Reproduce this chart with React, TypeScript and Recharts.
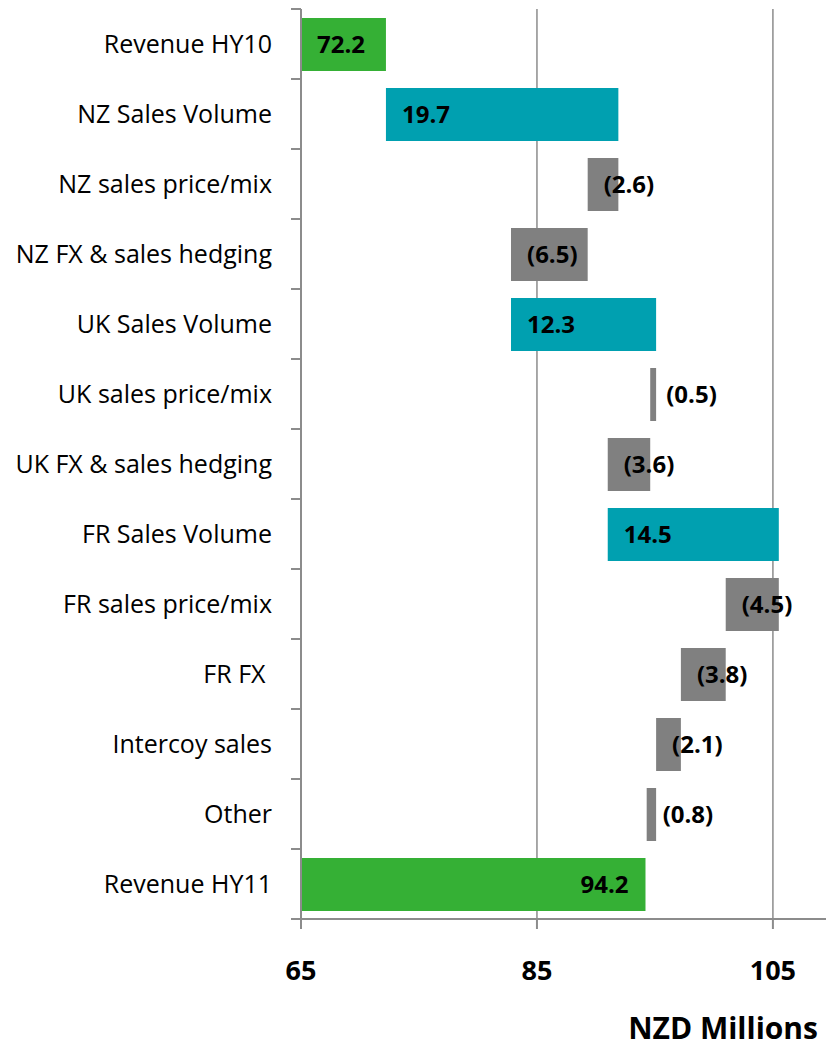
import React from 'react';
import { BarChart, Bar, XAxis, YAxis, CartesianGrid, Cell, LabelList, Label } from 'recharts';

const categories = [
  'Revenue HY10',
  'NZ Sales Volume',
  'NZ sales price/mix',
  'NZ FX & sales hedging',
  'UK Sales Volume',
  'UK sales price/mix',
  'UK FX & sales hedging',
  'FR Sales Volume',
  'FR sales price/mix',
  'FR FX\u00A0',
  'Intercoy sales',
  'Other',
  'Revenue HY11',
];

// totals are absolute values, the rest are movements
const changes = [72.2, 19.7, -2.6, -6.5, 12.3, -0.5, -3.6, 14.5, -4.5, -3.8, -2.1, -0.8, 94.2];
const kinds = ['total', 'volume', 'adj', 'adj', 'volume', 'adj', 'adj', 'volume', 'adj', 'adj', 'adj', 'adj', 'total'];
const xTicks = [65, 85, 105];

const X_MIN = 65;
const X_MAX = 109.5;
const BAND = 70;
const FONT = '"Open Sans", sans-serif';
const AXIS_GRAY = '#8c8c8c';

const colorFor: Record<string, string> = {
  total: '#35b035',
  volume: '#00a0b0',
  adj: '#808080',
};

const fmt = (v: number) => (v < 0 ? `(${Math.abs(v).toFixed(1)})` : v.toFixed(1));

// build the floating bars as [low, high] ranges
let level = 0;
const data = categories.map((name, i) => {
  const v = changes[i];
  let low: number;
  let high: number;
  if (kinds[i] === 'total') {
    low = X_MIN;
    high = v;
    level = v;
  } else {
    const start = level;
    const end = level + v;
    low = Math.min(start, end);
    high = Math.max(start, end);
    level = end;
  }
  return { name, range: [low, high], label: fmt(v), kind: kinds[i] };
});

const CategoryTick = (props: any) => {
  const { x, y, payload, index } = props;
  return (
    <g>
      <line x1={x - 10} x2={x} y1={y - BAND / 2} y2={y - BAND / 2} stroke={AXIS_GRAY} strokeWidth={2} />
      {index === categories.length - 1 && (
        <line x1={x - 10} x2={x} y1={y + BAND / 2} y2={y + BAND / 2} stroke={AXIS_GRAY} strokeWidth={2} />
      )}
      <text x={x - 29} y={y} dy="0.35em" textAnchor="end" fontFamily={FONT} fontSize={25} fill="#000">
        {payload.value}
      </text>
    </g>
  );
};

const BarLabel = (props: any) => {
  const { x, y, width, height, value, index } = props;
  const last = index === categories.length - 1;
  const tx = last ? x + width - 17 : x + 16;
  return (
    <text
      x={tx}
      y={y + height / 2}
      dy="0.35em"
      textAnchor={last ? 'end' : 'start'}
      fontFamily={FONT}
      fontWeight="bold"
      fontSize={24}
      fill="#000"
    >
      {value}
    </text>
  );
};

export default function App() {
  return (
    <div style={{ position: 'absolute', left: 0, top: 0, fontFamily: FONT }}>
      <BarChart
        width={827}
        height={1047}
        data={data}
        layout="vertical"
        margin={{ top: 9, right: 1, left: 0, bottom: 0 }}
        barSize={53}
      >
        {/* syncWithTicks keeps the grid off the plot edges */}
        <CartesianGrid horizontal={false} syncWithTicks stroke={AXIS_GRAY} strokeWidth={1.5} />
        <XAxis
          type="number"
          domain={[X_MIN, X_MAX]}
          ticks={xTicks}
          height={128}
          axisLine={{ stroke: AXIS_GRAY, strokeWidth: 2 }}
          tickLine={{ stroke: AXIS_GRAY, strokeWidth: 2 }}
          tickSize={10}
          tickMargin={32}
          tick={{ fill: '#000', fontSize: 27, fontWeight: 'bold', fontFamily: FONT }}
        >
          <Label
            value="NZD Millions"
            position="insideBottomRight"
            offset={8}
            fill="#000"
            fontSize={30}
            fontWeight="bold"
            fontFamily={FONT}
          />
        </XAxis>
        <YAxis
          type="category"
          dataKey="name"
          width={301}
          axisLine={{ stroke: AXIS_GRAY, strokeWidth: 2 }}
          tickLine={false}
          tickSize={0}
          tickMargin={0}
          interval={0}
          tick={<CategoryTick />}
        />
        <Bar dataKey="range" isAnimationActive={false}>
          {data.map((d, i) => (
            <Cell key={i} fill={colorFor[d.kind]} />
          ))}
          <LabelList dataKey="label" content={<BarLabel />} />
        </Bar>
      </BarChart>
    </div>
  );
}
